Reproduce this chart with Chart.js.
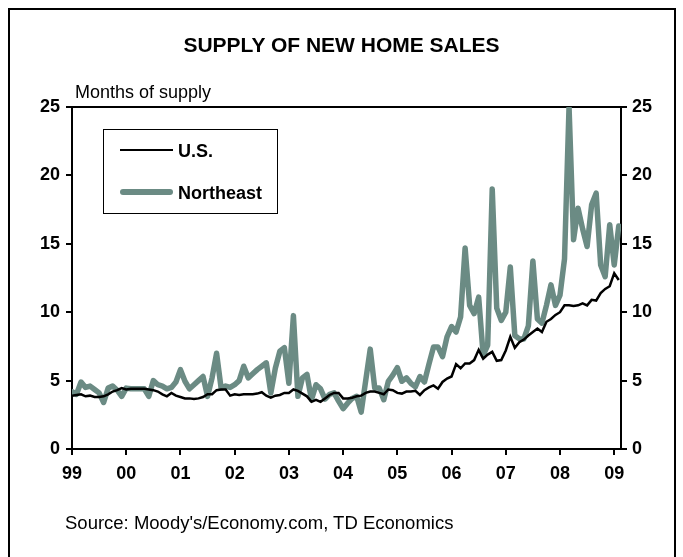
<!DOCTYPE html>
<html>
<head>
<meta charset="utf-8">
<script src="https://cdn.jsdelivr.net/npm/chart.js@4.4.1/dist/chart.umd.min.js"></script>
<style>
  html, body { margin: 0; padding: 0; background: #fff; }
  body { width: 683px; height: 557px; position: relative; overflow: hidden; font-family: "Liberation Sans", Arial, sans-serif; }
  #frame { position: absolute; left: 8px; top: 8px; width: 668px; height: 570px; border: 2px solid #000; box-sizing: border-box; }
  #chart { position: absolute; left: 0; top: 0; }
  .txt { position: absolute; color: #000; white-space: nowrap; }
  #title { left: 0; width: 683px; top: 33px; text-align: center; font-weight: bold; font-size: 21px; }
  #ylab { left: 75px; top: 82px; font-size: 18px; }
  #source { left: 65px; top: 512px; font-size: 18.5px; }
  #legend { position: absolute; left: 103px; top: 129px; width: 175px; height: 85px; border: 1px solid #000; box-sizing: border-box; background: #fff; }
  .sw { position: absolute; left: 16px; width: 53px; }
  .lt { position: absolute; left: 74px; font-weight: bold; font-size: 18px; line-height: 20px; }
</style>
</head>
<body>
<div id="frame"></div>
<canvas id="chart" width="683" height="557"></canvas>
<div class="txt" id="title">SUPPLY OF NEW HOME SALES</div>
<div class="txt" id="ylab">Months of supply</div>
<div class="txt" id="source">Source: Moody's/Economy.com, TD Economics</div>
<div id="legend">
  <div class="sw" style="top:19px;height:2px;background:#000;"></div>
  <div class="lt" style="top:11px;">U.S.</div>
  <div class="sw" style="top:59px;height:6px;border-radius:3px;background:#6b8b84;"></div>
  <div class="lt" style="top:53px;">Northeast</div>
</div>
<script>
'use strict';

// monthly, Jan 1999 .. Feb 2009
const yearLabels = ['99', '00', '01', '02', '03', '04', '05', '06', '07', '08', '09'];
const yTicks = [0, 5, 10, 15, 20, 25];

const usSupply = [
  3.9, 3.95, 4.0, 3.85, 3.9, 3.8, 3.8, 3.85, 4.0, 4.2, 4.3, 4.45,
  4.35, 4.4, 4.4, 4.4, 4.4, 4.35, 4.3, 4.2, 4.0, 3.85, 4.1, 3.9,
  3.8, 3.7, 3.7, 3.65, 3.7, 3.8, 4.0, 4.0, 4.3, 4.35, 4.35, 3.9,
  4.0, 3.95, 4.0, 4.0, 4.0, 4.05, 4.15, 3.9, 3.75, 3.9, 3.95, 4.1,
  4.1, 4.35, 4.25, 4.05, 3.85, 3.45, 3.6, 3.45, 3.7, 3.95, 4.1, 4.1,
  3.7, 3.7, 3.75, 3.85, 3.9, 4.1, 4.2, 4.2, 4.1, 4.0, 4.35, 4.3,
  4.1, 4.05, 4.2, 4.2, 4.25, 3.95, 4.3, 4.5, 4.65, 4.4, 4.9, 5.15,
  5.3, 6.2, 5.9, 6.25, 6.25, 6.5, 7.25, 6.6, 6.9, 7.1, 6.45, 6.5,
  7.2, 8.2, 7.4, 7.8, 8.0, 8.3, 8.55, 8.8, 8.55, 9.3, 9.5, 9.8,
  10.0, 10.5, 10.5, 10.45, 10.5, 10.65, 10.5, 10.9, 10.85, 11.4, 11.7, 11.9,
  12.85, 12.35
];

const neSupply = [
  4.2, 4.0, 4.9, 4.5, 4.6, 4.35, 4.1, 3.4, 4.45, 4.6, 4.3, 3.85,
  4.45, 4.4, 4.4, 4.4, 4.4, 3.85, 5.0, 4.7, 4.6, 4.4, 4.5, 4.9,
  5.8, 4.95, 4.4, 4.7, 5.0, 5.3, 3.85, 5.2, 7.0, 4.45, 4.6, 4.5,
  4.7, 5.0, 6.05, 5.2, 5.5, 5.8, 6.05, 6.3, 4.1, 5.9, 7.15, 7.4,
  4.8, 9.75, 3.85, 5.2, 5.45, 3.6, 4.7, 4.4, 3.65, 4.0, 4.1, 3.5,
  2.95, 3.35, 3.7, 3.85, 2.7, 5.0, 7.3, 4.45, 4.45, 3.6, 4.95, 5.4,
  5.95, 4.95, 5.2, 4.8, 4.55, 5.3, 4.9, 6.2, 7.45, 7.45, 6.75, 8.2,
  8.95, 8.55, 9.65, 14.7, 10.5, 9.9, 11.1, 6.85, 7.6, 19.0, 10.3, 9.4,
  10.0, 13.3, 8.3, 8.05, 8.05, 9.0, 13.75, 9.5, 9.2, 10.5, 12.0, 10.5,
  11.25, 13.9, 25.0, 15.3, 17.6, 16.1, 14.8, 17.85, 18.7, 13.45, 12.6, 16.4,
  13.45, 16.3
];

const toPoints = arr => arr.map((v, i) => ({ x: i, y: v }));
const tickFont = { family: 'Liberation Sans', size: 18, weight: 'bold' };
const axisGrid = { display: true, drawOnChartArea: false, drawTicks: true, tickLength: 6, color: '#000', lineWidth: 2 };
const axisBorder = { display: true, color: '#000', width: 2 };

new Chart(document.getElementById('chart'), {
  type: 'line',
  data: {
    datasets: [
      { label: 'U.S.', data: toPoints(usSupply), borderColor: '#000', borderWidth: 2.5, pointRadius: 0, tension: 0, yAxisID: 'y' },
      { label: 'Northeast', data: toPoints(neSupply), borderColor: '#6b8b84', borderWidth: 5.5, pointRadius: 0, tension: 0, borderJoinStyle: 'round', borderCapStyle: 'round', yAxisID: 'y' },
    ]
  },
  options: {
    responsive: false, animation: false,
    layout: { padding: { left: 14, right: 12, top: 107, bottom: 72 } },
    plugins: { legend: { display: false }, tooltip: { enabled: false } },
    scales: {
      x: {
        type: 'linear', min: 0, max: 121.5, position: 'bottom',
        afterBuildTicks: s => { s.ticks = yearLabels.map((l, i) => ({ value: i * 12 })); },
        afterFit: s => { s.height = 36; },
        ticks: { color: '#000', font: tickFont, padding: 8, maxRotation: 0, autoSkip: false, callback: v => yearLabels[v / 12] },
        grid: axisGrid, border: axisBorder
      },
      xTop: {
        type: 'linear', min: 0, max: 121.5, position: 'top',
        afterFit: s => { s.height = 0; },
        ticks: { display: false }, grid: { display: false }, border: axisBorder
      },
      y: {
        min: 0, max: 25, position: 'left',
        afterBuildTicks: s => { s.ticks = yTicks.map(v => ({ value: v })); },
        afterFit: s => { s.width = 58; },
        ticks: { color: '#000', font: tickFont, padding: 6 },
        grid: axisGrid, border: axisBorder
      },
      y2: {
        min: 0, max: 25, position: 'right',
        afterBuildTicks: s => { s.ticks = yTicks.map(v => ({ value: v })); },
        afterFit: s => { s.width = 50; },
        ticks: { color: '#000', font: tickFont, padding: 5 },
        grid: axisGrid, border: axisBorder
      }
    }
  }
});
</script>
</body>
</html>
